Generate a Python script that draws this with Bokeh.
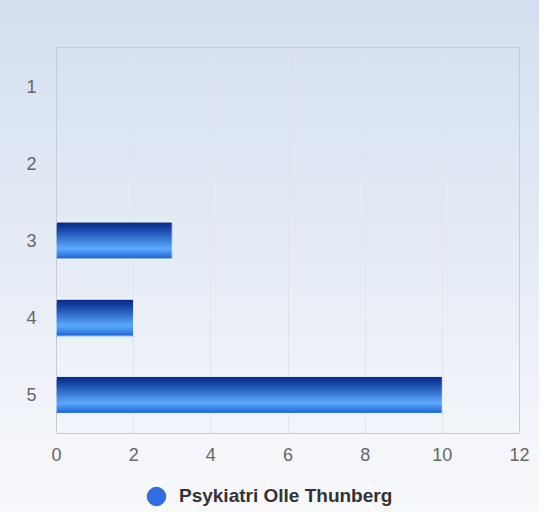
import numpy as np
from bokeh.plotting import figure
from bokeh.layouts import column
from bokeh.models import Range1d, FixedTicker, Legend, LegendItem, ColumnDataSource
from bokeh.embed import file_html
from bokeh.resources import INLINE

# ---- data ----
categories = [1, 2, 3, 4, 5]
values = [0, 0, 3, 2, 10]
series_name = "Psykiatri Olle Thunberg"
x_ticks = [0, 2, 4, 6, 8, 10, 12]

# ---- style ----
BAR_H = 0.48
N_STRIPS = 60
stops = [(0.0, (8, 40, 132)), (0.2, (22, 70, 168)), (0.72, (92, 170, 255)), (1.0, (28, 98, 214))]


def grad_color(t):
    for (t0, c0), (t1, c1) in zip(stops[:-1], stops[1:]):
        if t0 <= t <= t1:
            f = (t - t0) / (t1 - t0)
            c = [round(a + (b - a) * f) for a, b in zip(c0, c1)]
            return "#%02x%02x%02x" % tuple(c)
    return "#%02x%02x%02x" % stops[-1][1]


tops, bottoms, rights, colors = [], [], [], []
for cat, val in zip(categories, values):
    if val <= 0:
        continue
    for k in range(N_STRIPS):
        t = k / N_STRIPS
        tops.append(cat - BAR_H / 2 + t * BAR_H)
        bottoms.append(cat + BAR_H / 2)
        rights.append(val)
        colors.append(grad_color(t + 0.5 / N_STRIPS))
strip_src = ColumnDataSource(dict(top=tops, bottom=bottoms, right=rights, color=colors))
bar_src = ColumnDataSource(dict(y=[c for c, v in zip(categories, values) if v > 0],
                                right=[v for v in values if v > 0]))

p = figure(width=539, height=464, output_backend="svg", toolbar_location=None,
           x_range=Range1d(0, 12), y_range=Range1d(5.5, 0.5),
           min_border_left=56, min_border_right=20, min_border_top=47, min_border_bottom=31)
p.background_fill_color = None
p.border_fill_color = None
p.outline_line_color = "#c8ccd4"
p.outline_line_width = 1

p.quad(left=0, right="right", top="top", bottom="bottom", source=strip_src,
       fill_color="color", line_color=None)
p.hbar(y="y", right="right", left=0, height=BAR_H, source=bar_src,
       fill_color=None, line_color="white", line_width=1)

p.xaxis.ticker = FixedTicker(ticks=x_ticks)
p.yaxis.ticker = FixedTicker(ticks=categories)
for ax in (p.xaxis[0], p.yaxis[0]):
    ax.axis_line_color = None
    ax.major_tick_line_color = None
    ax.minor_tick_line_color = None
    ax.major_label_text_font = "Liberation Sans"
    ax.major_label_text_font_size = "18px"
    ax.major_label_text_color = "#666666"
p.xaxis.major_label_standoff = 8
p.yaxis.major_label_standoff = 14

p.xgrid.grid_line_color = "#e0e3e9"
p.ygrid.grid_line_color = None

# legend strip below the chart
lf = figure(width=539, height=48, output_backend="svg", toolbar_location=None,
            x_range=Range1d(0, 1), y_range=Range1d(0, 1),
            x_axis_location=None, y_axis_location=None, min_border=0)
lf.background_fill_color = None
lf.border_fill_color = None
lf.outline_line_color = None
lf.xgrid.grid_line_color = None
lf.ygrid.grid_line_color = None
leg_r = lf.scatter(x=[-100], y=[-100], marker="circle",
                   fill_color="#2f6ee0", line_color="#2a62cf")
legend = Legend(items=[LegendItem(label=series_name, renderers=[leg_r])],
                orientation="horizontal", location=(77, -7),
                label_text_font="Liberation Sans", label_text_font_style="bold",
                label_text_font_size="19px", label_text_color="#333333",
                background_fill_color=None, border_line_color=None,
                glyph_width=46, glyph_height=46, label_standoff=0,
                margin=0, padding=0)
lf.add_layout(legend, "center")

layout = column(p, lf, spacing=0,
                styles={"background": "linear-gradient(to bottom, #d3dfef 0%, #f8f9fc 100%)"})

open("out.html", "w").write(file_html(layout, INLINE))
